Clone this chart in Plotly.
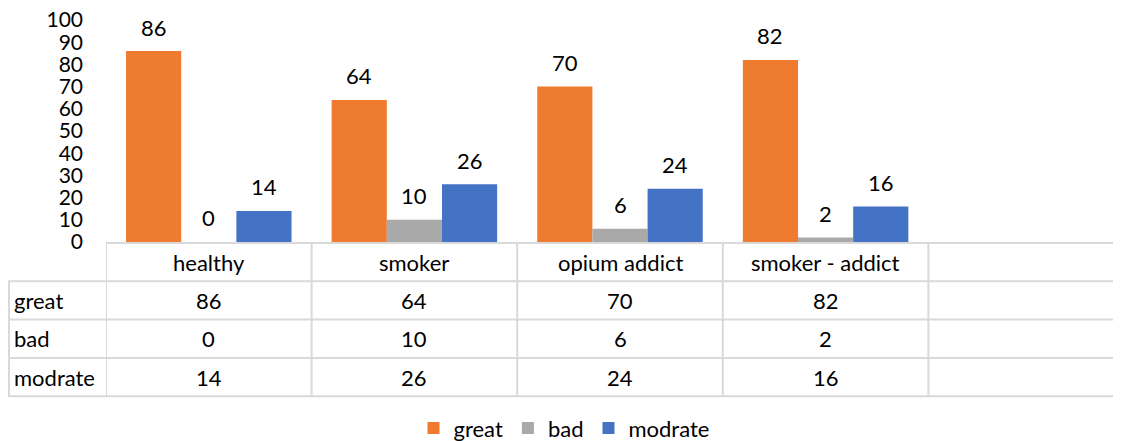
import plotly.graph_objects as go

categories = ["healthy", "smoker", "opium addict", "smoker - addict"]
series_names = ["great", "bad", "modrate"]
great = [86, 64, 70, 82]
bad = [0, 10, 6, 2]
modrate = [14, 26, 24, 16]
y_ticks = [0, 10, 20, 30, 40, 50, 60, 70, 80, 90, 100]

series_values = [great, bad, modrate]
colors = ["#EE7B30", "#A9A9A9", "#4472C4"]

OFF = 8  # page body margin
W, H = 1121 - OFF, 441 - OFF
FONT = "Lato"
FS = 22
GRID = "#D9D9D9"

# pixel helpers for layout (reference pixel -> paper fraction)
def px(p):
    return (p - OFF) / W

def py(p):
    return 1 - (p - OFF) / H

x_left_px = 106
cat_w_px = 205.6
x_range = [-0.5, -0.5 + (1121 - x_left_px) / cat_w_px]
bargap = 0.195
y_top = 101
px_per_unit = 2.22

fig = go.Figure()
xs = list(range(len(categories)))
for name, vals, col in zip(series_names, series_values, colors):
    fig.add_trace(go.Bar(x=xs, y=vals, name=name, marker=dict(color=col, line=dict(width=0))))

bw = (1 - bargap) / len(series_names)
annotations = []
for k, vals in enumerate(series_values):
    for i, v in enumerate(vals):
        annotations.append(dict(x=i + (k - 1) * bw, y=v, xref="x", yref="y", text=str(v),
                                showarrow=False, yshift=24, xanchor="center", yanchor="middle",
                                font=dict(family=FONT, size=FS, color="black")))

# data table
table_top = 243
row_h = 38.3
ncols = len(categories) + 1
shapes = []
line = dict(color=GRID, width=2)
shapes.append(dict(type="line", xref="x", yref="paper", x0=-0.5, x1=x_range[1], y0=py(table_top), y1=py(table_top), line=line, layer="below"))
for r in range(1, 5):
    yy = py(table_top + r * row_h)
    shapes.append(dict(type="line", xref="paper", yref="paper", x0=px(8), x1=1, y0=yy, y1=yy, line=line))
for c in range(ncols + 1):
    xx = c - 0.5
    shapes.append(dict(type="line", xref="x", yref="paper", x0=xx, x1=xx, y0=py(table_top), y1=py(table_top + 4 * row_h), line=line))
shapes.append(dict(type="line", xref="paper", yref="paper", x0=px(9), x1=px(9), y0=py(table_top + row_h), y1=py(table_top + 4 * row_h), line=line))

for i, c in enumerate(categories):
    annotations.append(dict(x=i, y=py(table_top + row_h / 2), xref="x", yref="paper", text=c, showarrow=False,
                            xanchor="center", yanchor="middle", font=dict(family=FONT, size=FS, color="black")))
for r, (name, vals) in enumerate(zip(series_names, series_values)):
    yc = py(table_top + (r + 1.5) * row_h)
    annotations.append(dict(x=px(12), y=yc, xref="paper", yref="paper", text=name, showarrow=False,
                            xanchor="left", yanchor="middle", font=dict(family=FONT, size=FS, color="black")))
    for i, v in enumerate(vals):
        annotations.append(dict(x=i, y=yc, xref="x", yref="paper", text=str(v), showarrow=False,
                                xanchor="center", yanchor="middle", font=dict(family=FONT, size=FS, color="black")))

fig.update_layout(
    width=W, height=H,
    margin=dict(l=0, r=0, t=0, b=0, autoexpand=False),
    plot_bgcolor="white", paper_bgcolor="white",
    barmode="group", bargap=bargap, bargroupgap=0,
    font=dict(family=FONT, size=FS, color="black"),
    xaxis=dict(domain=[px(x_left_px), 1], range=x_range, showticklabels=False, showgrid=False, zeroline=False,
               showline=False, ticks="", automargin=False),
    yaxis=dict(domain=[py(242), py(242 - y_top * px_per_unit)], range=[0, y_top], tickvals=y_ticks,
               showgrid=False, zeroline=False, showline=False, ticks="", ticklabelstandoff=22, automargin=False,
               ticklabeloverflow="allow", tickfont=dict(family=FONT, size=21, color="black")),
    legend=dict(orientation="h", x=px(564), xanchor="center", y=-0.019, yanchor="bottom",
                font=dict(family=FONT, size=FS, color="black"), itemwidth=30, traceorder="normal"),
    shapes=shapes,
    annotations=annotations,
)

fig.write_html("out.html")
